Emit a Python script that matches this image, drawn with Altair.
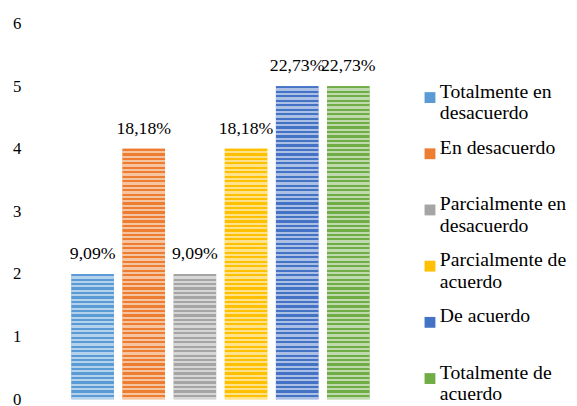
import altair as alt
import pandas as pd

categories = ["Totalmente en desacuerdo", "En desacuerdo", "Parcialmente en desacuerdo",
              "Parcialmente de acuerdo", "De acuerdo", "Totalmente de acuerdo"]
counts = [2, 4, 2, 4, 5, 5]
pct_labels = ["9,09%", "18,18%", "9,09%", "18,18%", "22,73%", "22,73%"]
colors = ["#5B9BD5", "#ED7D31", "#A5A5A5", "#FFC000", "#4472C4", "#70AD47"]
legend_lines = [["Totalmente en", "desacuerdo"], ["En desacuerdo", ""],
                ["Parcialmente en", "desacuerdo"], ["Parcialmente de", "acuerdo"],
                ["De acuerdo", ""], ["Totalmente de", "acuerdo"]]
y_ticks = [0, 1, 2, 3, 4, 5, 6]

df = pd.DataFrame({"cat": categories, "count": counts, "label": pct_labels})

FONT = "Liberation Serif"


def tint(hex_color, f):
    h = hex_color.lstrip("#")
    r, g, b = (int(h[i:i + 2], 16) for i in (0, 2, 4))
    r, g, b = (round(c + (255 - c) * f) for c in (r, g, b))
    return f"#{r:02x}{g:02x}{b:02x}"


def stripes(color, value, per_unit=14):
    n = max(1, round(value * per_unit))
    light = tint(color, 0.55)
    stops = []
    for i in range(n):
        a, m, b = i / n, (i + 0.5) / n, (i + 1) / n
        stops += [alt.GradientStop(color=color, offset=a),
                  alt.GradientStop(color=color, offset=m),
                  alt.GradientStop(color=light, offset=m),
                  alt.GradientStop(color=light, offset=b)]
    return alt.Gradient(gradient="linear", stops=stops, x1=0, x2=0, y1=0, y2=1)


expr = ""
for cat, lines in zip(categories, legend_lines):
    expr += f"datum.label === '{cat}' ? ['{lines[0]}', '{lines[1]}'] : "
expr += "datum.label"

x_enc = alt.X("cat:N", sort=categories,
              scale=alt.Scale(domain=categories, paddingInner=0.17, paddingOuter=0.2),
              axis=None)
y_enc = alt.Y("count:Q", scale=alt.Scale(domain=[0, 6], nice=False),
              axis=alt.Axis(values=y_ticks, grid=False, domain=False, ticks=False,
                            tickSize=0, labelPadding=41, labelFont=FONT,
                            labelFontSize=17, labelColor="#000000", title=None))

base = alt.Chart(df).mark_bar().encode(
    x=x_enc, y=y_enc,
    color=alt.Color("cat:N", scale=alt.Scale(domain=categories, range=colors),
                    legend=alt.Legend(orient="none", legendX=364, legendY=65,
                                      title=None, symbolType="square",
                                      symbolSize=121, symbolStrokeWidth=0,
                                      labelFont=FONT, labelFontSize=20,
                                      labelColor="#000000", labelExpr=expr,
                                      labelLimit=400, labelOffset=0,
                                      rowPadding=15, labelBaseline="alphabetic")))

layers = [base]
for cat, val, col in zip(categories, counts, colors):
    layers.append(
        alt.Chart(df).transform_filter(alt.datum.cat == cat)
        .mark_bar(color=stripes(col, val)).encode(x=x_enc, y=y_enc)
    )

text = alt.Chart(df).mark_text(baseline="alphabetic", dy=-15.5, font=FONT,
                               fontSize=18, color="#000000").encode(
    x=x_enc, y=y_enc, text="label:N")
layers.append(text)

chart = alt.layer(*layers).properties(
    width=323, height=381,
    autosize=alt.AutoSizeParams(type="none"),
    padding={"left": 54, "top": 13, "right": 192, "bottom": 3},
    background="white",
).configure_view(stroke=None).configure_axis(
    labelFont=FONT, labelFontSize=17, labelColor="#000000"
)

chart.save("out.html", embed_options={"renderer": "svg", "actions": False})
